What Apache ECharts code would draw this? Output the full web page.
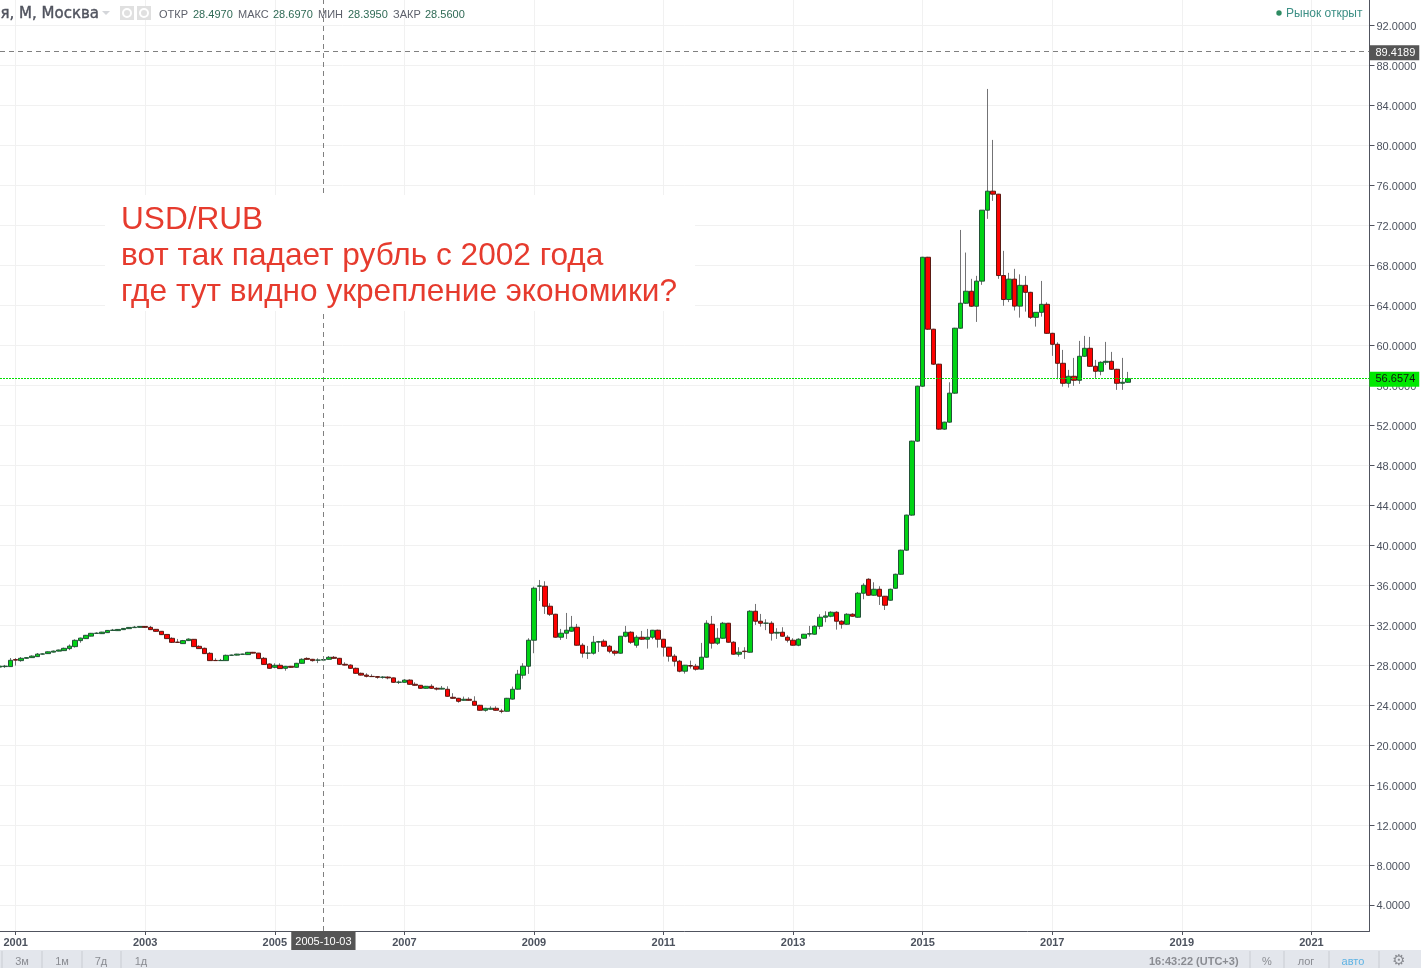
<!DOCTYPE html>
<html><head><meta charset="utf-8">
<script src="https://cdn.jsdelivr.net/npm/echarts@6/dist/echarts.min.js"></script>
<style>html,body{margin:0;padding:0;background:#fff;overflow:hidden}#c{width:1421px;height:968px}</style>
</head><body><div id="c"></div>
<script>
// Month index 0 = January 2001; the first candle is October 2000 (index -3).
const firstMonth = -3;
const opens = [27.80,27.85,27.85,
28.55,28.45,28.68,28.75,28.85,29.10,29.15,29.30,29.40,29.45,29.65,29.85,
30.45,30.65,30.90,31.17,31.15,31.25,31.47,31.45,31.55,31.65,31.75,31.78,
31.87,31.78,31.58,31.38,31.07,30.68,30.30,30.15,30.45,30.58,29.88,29.68,
29.18,28.47,28.45,28.45,28.98,29.00,29.08,29.05,29.28,29.20,28.68,28.11,
27.78,27.98,27.68,27.88,27.78,28.18,28.67,28.58,28.50,28.497,28.58,28.78,
28.68,28.08,28.00,27.68,27.18,27.00,26.87,26.85,26.78,26.80,26.72,26.28,
26.28,26.50,26.08,25.98,25.68,25.88,25.68,25.60,25.58,24.78,24.68,24.48,
24.58,24.38,23.98,23.48,23.58,23.68,23.40,23.38,24.60,25.59,26.99,27.89,
30.49,35.90,35.89,33.89,33.09,30.79,31.19,31.39,31.79,29.99,29.19,29.19,
30.30,30.39,29.89,29.39,29.19,30.89,31.29,29.99,30.79,30.59,30.79,31.49,
30.59,29.79,28.89,28.39,27.39,27.96,27.89,27.59,28.79,32.09,30.19,30.69,
32.19,30.29,29.09,29.40,29.29,33.39,32.39,32.19,32.19,31.20,31.29,30.79,
30.49,29.99,30.69,31.10,31.09,31.89,32.79,32.89,33.29,32.39,32.09,33.09,
32.79,35.19,36.59,34.99,35.59,34.89,34.49,35.69,37.09,39.50,43.01,50.41,
55.91,68.81,61.61,58.11,51.61,52.31,55.21,61.71,64.21,65.41,63.91,66.42,
73.52,75.42,75.12,66.98,64.58,66.62,63.92,66.00,65.30,62.80,63.30,64.10,
61.20,60.10,58.20,56.20,56.90,56.50,58.90,59.70,57.90,57.40,58.30,58.40,
57.60,56.20,56.30];
const closes = [27.90,27.90,28.48,
28.50,28.68,28.75,28.90,29.10,29.12,29.33,29.40,29.51,29.68,29.90,30.48,
30.70,30.98,31.18,31.20,31.30,31.47,31.50,31.57,31.67,31.77,31.80,31.87,
31.78,31.55,31.38,31.05,30.65,30.28,30.27,30.45,30.60,29.85,29.65,29.15,
28.45,28.45,28.47,28.98,29.00,29.10,29.10,29.28,29.20,28.65,28.07,27.68,
27.98,27.65,27.88,27.78,28.18,28.58,28.58,28.45,28.50,28.56,28.78,28.68,
28.08,28.00,27.68,27.18,27.00,26.88,26.85,26.78,26.80,26.72,26.28,26.30,
26.50,26.08,25.98,25.68,25.88,25.68,25.60,25.68,24.88,24.68,24.38,24.58,
24.48,23.98,23.48,23.68,23.68,23.48,23.38,24.68,25.58,27.09,27.89,30.49,
35.69,35.92,33.89,33.09,30.79,31.19,31.49,31.79,29.99,29.19,29.20,30.29,
30.35,29.89,29.39,29.19,30.89,31.29,30.29,30.79,30.59,30.79,31.49,30.59,
29.79,28.89,28.39,27.39,27.99,27.90,27.59,28.79,32.19,30.19,30.69,32.19,
30.29,29.09,29.29,29.35,33.39,32.39,32.19,32.20,31.19,31.28,30.89,30.49,
29.99,30.59,31.09,31.15,31.89,32.79,32.92,33.29,32.39,32.09,33.09,32.89,
35.19,35.99,34.99,35.59,34.89,33.99,35.59,37.09,39.50,43.01,50.41,55.91,
68.81,61.61,58.11,51.61,52.31,55.21,61.71,64.21,65.41,63.91,66.42,73.52,
75.42,75.12,66.98,64.58,66.62,63.92,66.00,65.30,62.80,63.30,64.10,61.20,
60.10,58.20,56.20,56.90,56.50,58.90,59.70,57.90,57.40,58.30,58.40,57.60,
56.20,56.30,56.6574];
const lows = [27.75,27.72,27.85,
27.95,28.34,28.65,28.72,28.82,29.05,29.12,29.27,29.38,29.42,29.50,29.75,
30.24,30.62,30.88,31.12,31.13,31.23,31.42,31.43,31.53,31.63,31.72,31.76,
31.74,31.52,31.35,31.02,30.62,30.22,30.24,30.12,30.42,29.82,29.62,29.12,
28.42,28.42,28.42,28.43,28.95,28.97,29.05,29.03,29.17,28.62,28.05,27.65,
27.68,27.65,27.44,27.75,27.76,28.15,28.55,28.35,28.20,28.395,28.55,28.65,
28.02,27.97,27.65,27.15,26.97,26.77,26.82,26.64,26.64,26.58,26.25,26.11,
26.25,26.05,25.95,25.65,25.65,25.65,25.47,25.58,24.85,24.65,24.24,24.45,
24.45,23.95,23.45,23.34,23.55,23.45,23.18,23.36,24.55,25.55,26.65,27.12,
29.19,34.42,33.12,32.92,30.75,30.52,30.62,31.35,29.95,28.75,28.62,29.05,
29.32,29.85,29.19,28.95,29.15,30.79,30.12,29.74,30.52,29.65,30.59,29.75,
28.85,28.35,27.87,27.28,27.15,27.65,27.45,27.55,28.75,29.65,30.02,30.65,
30.25,29.05,28.85,28.62,29.25,32.02,31.85,31.50,30.45,30.62,30.85,30.27,
29.96,29.89,30.65,30.85,31.05,31.59,32.29,32.79,31.55,31.65,32.05,32.85,
32.75,34.59,34.95,34.95,34.02,33.52,34.45,35.65,37.05,39.45,42.95,50.35,
55.85,61.55,58.05,51.55,51.55,52.25,55.15,61.65,64.15,63.85,62.34,66.05,
72.65,74.45,66.65,63.95,64.32,63.48,62.77,63.37,62.64,61.87,62.87,61.15,
58.94,56.60,55.87,55.77,55.94,56.14,58.85,57.85,56.74,57.00,58.04,57.55,
55.54,55.54,56.25];
const highs = [27.95,28.02,28.71,
28.70,28.81,28.78,28.98,29.21,29.18,29.36,29.46,29.55,29.75,30.07,30.58,
30.75,31.02,31.22,31.28,31.33,31.50,31.62,31.60,31.70,31.80,31.92,31.90,
31.90,31.92,31.60,31.40,31.09,30.78,30.62,30.52,30.68,30.60,29.98,29.75,
29.30,28.68,28.62,29.05,29.05,29.13,29.14,29.32,29.32,29.22,28.81,28.18,
28.18,28.18,27.92,27.92,28.22,28.68,28.78,28.62,28.68,28.697,28.91,28.91,
28.72,28.28,28.08,27.75,27.25,27.18,27.08,26.90,26.90,26.88,26.75,26.45,
26.60,26.58,26.28,26.00,25.92,26.08,25.78,25.91,25.88,25.19,24.72,24.85,
24.78,24.88,24.02,23.72,23.88,23.88,23.62,24.72,25.85,27.52,28.19,30.69,
35.85,36.52,36.39,34.19,33.13,31.62,33.22,32.92,32.12,30.19,29.92,30.92,
30.42,30.59,30.02,29.52,30.12,31.92,31.39,30.99,31.42,31.62,31.52,31.55,
30.62,29.82,29.09,28.52,28.02,28.45,28.12,30.22,32.49,32.92,31.69,32.32,
32.22,30.39,29.79,29.79,33.49,34.12,33.12,32.59,32.39,31.69,31.79,30.99,
30.69,30.69,31.12,31.92,31.99,33.09,33.39,33.39,33.39,32.49,33.19,33.19,
35.32,36.19,36.69,36.29,35.89,34.92,35.65,37.15,39.55,43.05,50.45,55.95,
68.85,68.85,61.65,58.15,52.35,56.30,61.75,71.54,69.28,66.65,66.95,66.46,
85.65,80.55,75.15,69.45,67.25,67.65,67.10,66.94,65.35,62.95,66.44,64.30,
61.25,60.30,59.54,57.54,58.74,60.44,60.94,60.84,58.54,58.40,60.34,59.34,
57.65,58.74,57.34];
const xTickValues = [0,24,48,72,96,120,144,168,192,216,240];
const xTickLabels = ['2001','2003','2005','2007','2009','2011','2013','2015','2017','2019','2021'];
const yTickValues = [4,8,12,16,20,24,28,32,36,40,44,48,52,56,60,64,68,72,76,80,84,88,92];
const crossMonth = 57, crossDate = '2005-10-03', crossPrice = 89.4189, lastPrice = 56.6574;

const wicks = opens.map((o,i)=>[firstMonth+i,o,closes[i],lows[i],highs[i]]);
const bodies = opens.map((o,i)=>[firstMonth+i,o,closes[i],Math.min(o,closes[i]),Math.max(o,closes[i])]);
const sans = '"Liberation Sans",Arial,sans-serif';

function t(x,y,text,size,fill,extra){
  return {type:'text',z:101,x:x,y:y,silent:true,style:Object.assign({text:text,font:size+'px '+sans,fill:fill,textVerticalAlign:'middle'},extra||{})};
}
function r(x,y,w,h,fill,z){return {type:'rect',z:z||100,silent:true,shape:{x:x,y:y,width:w,height:h},style:{fill:fill}};}

const chart = echarts.init(document.getElementById('c'),null,{renderer:'canvas'});
chart.setOption({
  animation:false,
  backgroundColor:'#fff',
  grid:{left:0,top:0,width:1369.5,height:931,containLabel:false},
  xAxis:{type:'value',min:-2.9,max:250.76,position:'bottom',
    axisLine:{show:true,onZero:false,lineStyle:{color:'#50535e',width:1}},
    axisTick:{show:true,length:4,lineStyle:{color:'#50535e'},customValues:xTickValues},
    splitLine:{show:true,lineStyle:{color:'#f1f1f1',width:1}},
    axisLabel:{customValues:xTickValues,margin:6,color:'#4c525e',fontWeight:'bold',fontSize:11,fontFamily:sans,
      formatter:v=>xTickLabels[xTickValues.indexOf(v)]||''}},
  yAxis:{type:'value',min:1.395,max:94.55,position:'right',
    axisLine:{show:true,onZero:false,lineStyle:{color:'#50535e',width:1}},
    axisTick:{show:true,length:5,lineStyle:{color:'#50535e'},customValues:yTickValues},
    splitLine:{show:true,lineStyle:{color:'#f1f1f1',width:1}},
    axisLabel:{customValues:yTickValues,margin:7,color:'#4c525e',fontSize:11,fontFamily:sans,verticalAlign:'top',lineHeight:3,
      formatter:v=>v.toFixed(4)}},
  series:[
    {type:'candlestick',name:'wick',barWidth:0,clip:true,z:3,silent:true,
     itemStyle:{color:'#737375',color0:'#737375',borderColor:'#737375',borderColor0:'#737375',borderColorDoji:'#737375',borderWidth:1},
     data:wicks,
     markLine:{silent:true,symbol:'none',animation:false,z:5,
       data:[
        {yAxis:crossPrice,lineStyle:{color:'#808080',type:[5,4],width:1},
         label:{show:true,position:'end',distance:0,offset:[0,1.5],formatter:crossPrice.toFixed(4),color:'#fff',backgroundColor:'#555',fontSize:11,fontFamily:sans,padding:[2,4,2,6]}},
        {xAxis:crossMonth,lineStyle:{color:'#808080',type:[5,4],width:1},
         label:{show:true,position:'start',distance:0,formatter:crossDate,color:'#fff',backgroundColor:'#555',fontSize:11,fontFamily:sans,padding:[5,4,4,4]}},
        {yAxis:lastPrice,lineStyle:{color:'#00e000',type:[2,1],width:1},
         label:{show:true,position:'end',distance:0,offset:[0,0.5],formatter:lastPrice.toFixed(4),color:'#111',backgroundColor:'#00e800',fontSize:11,fontFamily:sans,padding:[2,4,2,6]}}
       ]}},
    {type:'candlestick',name:'body',barWidth:5,clip:true,z:4,silent:true,
     itemStyle:{color:'#00d414',color0:'#ff0000',borderColor:'#225437',borderColor0:'#5b1a13',borderColorDoji:'#225437',borderWidth:1},
     data:bodies}
  ],
  graphic:[
    r(105,195,590,116,'#ffffff'),
    t(121,220,'USD/RUB',31.6,'#e63b2e'),
    t(121,256,'вот так падает рубль с 2002 года',31.6,'#e63b2e'),
    t(121,292,'где тут видно укрепление экономики?',31.6,'#e63b2e'),
    t(99,14,'я, М, Москва',15,'#50535e',{font:'15px "DejaVu Sans"',textAlign:'right',stroke:'#50535e',lineWidth:0.4}),
    {type:'polygon',z:101,silent:true,shape:{points:[[102,11],[110,11],[106,15]]},style:{fill:'#d4d6da'}},
    r(120,6,14,14,'#e0e0e0'),r(137,6,14,14,'#e0e0e0'),
    {type:'circle',z:101,silent:true,shape:{cx:127,cy:13,r:4},style:{fill:'none',stroke:'#fff',lineWidth:2}},
    {type:'circle',z:101,silent:true,shape:{cx:144,cy:13,r:4},style:{fill:'none',stroke:'#fff',lineWidth:2}},
    t(159,14.5,'ОТКР',11,'#5d606b'),t(193,14.5,'28.4970',11,'#2f6a55'),
    t(238,14.5,'МАКС',11,'#5d606b'),t(273,14.5,'28.6970',11,'#2f6a55'),
    t(318,14.5,'МИН',11,'#5d606b'),t(348,14.5,'28.3950',11,'#2f6a55'),
    t(393,14.5,'ЗАКР',11,'#5d606b'),t(425,14.5,'28.5600',11,'#2f6a55'),
    {type:'circle',z:101,silent:true,shape:{cx:1279,cy:13,r:2.7},style:{fill:'#2e8b62'}},
    t(1286,13.5,'Рынок открыт',12,'#3c8f85'),
    r(0,950,1421,18,'#e3e6ec'),
    ...[1.5,41.5,81.5,120.5,1249.5,1283.5,1328.5,1378.5].map(x=>r(x,951,1,17,'#c9ccd2',101)),
    t(22,962,'3м',11,'#8a8c92',{textAlign:'center'}),
    t(62,962,'1м',11,'#8a8c92',{textAlign:'center'}),
    t(101,962,'7д',11,'#8a8c92',{textAlign:'center'}),
    t(141,962,'1д',11,'#8a8c92',{textAlign:'center'}),
    t(1149,962,'16:43:22 (UTC+3)',11,'#8a8c92',{font:'bold 11px '+sans}),
    t(1267,962,'%',11,'#8a8c92',{textAlign:'center'}),
    t(1306,962,'лог',11,'#8a8c92',{textAlign:'center'}),
    t(1353,962,'авто',11,'#5eb3e4',{textAlign:'center'}),
    t(1399,961,'⚙',15,'#8a8c92',{textAlign:'center',font:'15px "DejaVu Sans"'})
  ]
});
</script></body></html>
